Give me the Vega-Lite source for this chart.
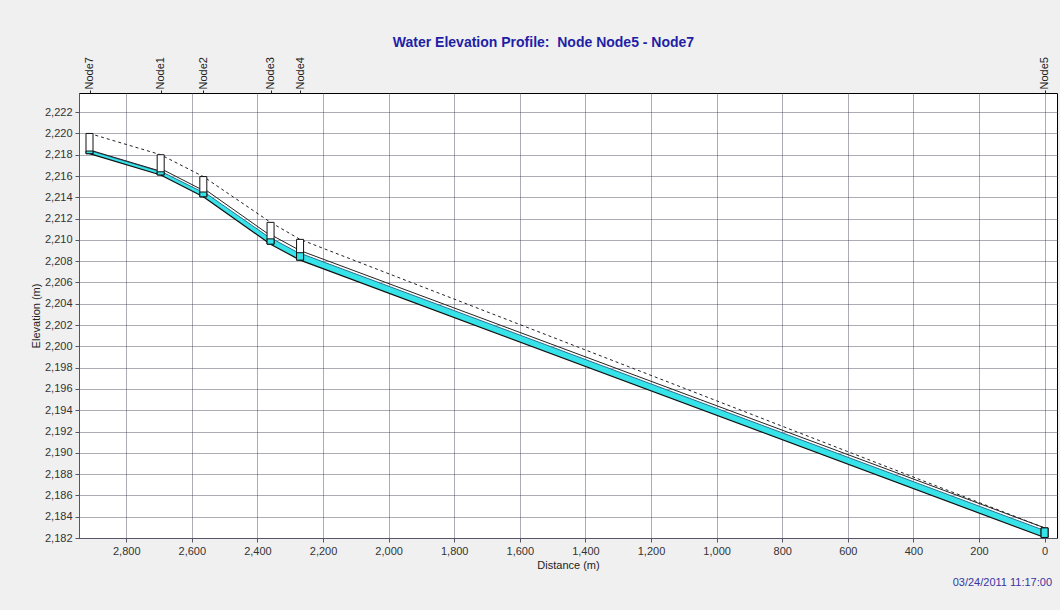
{
  "$schema": "https://vega.github.io/schema/vega-lite/v6.json",
  "autosize": {"type": "none"},
  "padding": {"left": 79, "top": 93, "right": 3, "bottom": 72},
  "width": 978,
  "height": 445,
  "background": "#f0f0f0",
  "title": {
    "text": "03/24/2011 11:17:00",
    "orient": "bottom",
    "anchor": "end",
    "frame": "group",
    "font": "Liberation Sans",
    "fontSize": 11,
    "fontWeight": "normal",
    "color": "#3535a0",
    "offset": 7,
    "dx": -5
  },
  "config": {
    "view": {"fill": "white", "stroke": "black", "strokeWidth": 1},
    "axis": {
      "labelFont": "Liberation Sans",
      "labelFontSize": 11,
      "labelColor": "#333333",
      "titleFont": "Liberation Sans",
      "titleFontSize": 11,
      "titleFontWeight": "normal",
      "titleColor": "#222222",
      "domainColor": "#555566",
      "tickColor": "#555566",
      "gridColor": "#3c3c55",
      "gridDash": [1, 1],
      "gridOpacity": 0.85,
      "labelFlush": false,
      "labelOverlap": false,
      "labelBound": false
    }
  },
  "datasets": {
    "nodes": [
      {"node": "Node7", "dist": 2912, "invert": 2218.1, "top": 2220.0, "water": 2218.35},
      {"node": "Node1", "dist": 2695, "invert": 2216.1, "top": 2218.0, "water": 2216.4},
      {"node": "Node2", "dist": 2565, "invert": 2214.05, "top": 2215.95, "water": 2214.5},
      {"node": "Node3", "dist": 2360, "invert": 2209.6, "top": 2211.65, "water": 2210.1},
      {"node": "Node4", "dist": 2270, "invert": 2208.1, "top": 2210.05, "water": 2208.8},
      {"node": "Node5", "dist": 0, "invert": 2182.05, "top": 2182.95, "water": 2182.95}
    ],
    "conduits": [
      {"seg": "C1", "dist": 2912, "invert": 2218.1, "crown": 2218.45, "water": 2218.4},
      {"seg": "C1", "dist": 2695, "invert": 2216.1, "crown": 2216.45, "water": 2216.4},
      {"seg": "C2", "dist": 2695, "invert": 2216.1, "crown": 2216.7, "water": 2216.45},
      {"seg": "C2", "dist": 2565, "invert": 2214.05, "crown": 2214.65, "water": 2214.45},
      {"seg": "C3", "dist": 2565, "invert": 2214.05, "crown": 2214.85, "water": 2214.55},
      {"seg": "C3", "dist": 2360, "invert": 2209.6, "crown": 2210.4, "water": 2210.15},
      {"seg": "C4", "dist": 2360, "invert": 2209.6, "crown": 2210.5, "water": 2210.2},
      {"seg": "C4", "dist": 2270, "invert": 2208.1, "crown": 2209.0, "water": 2208.7},
      {"seg": "C5", "dist": 2270, "invert": 2208.1, "crown": 2209.0, "water": 2208.75},
      {"seg": "C5", "dist": 0, "invert": 2182.05, "crown": 2182.95, "water": 2182.7}
    ]
  },
  "resolve": {"axis": {"x": "independent"}},
  "layer": [
    {
      "data": {"name": "conduits"},
      "mark": {"type": "area", "color": "#36e3e8", "opacity": 1},
      "encoding": {
        "x": {
          "field": "dist", "type": "quantitative",
          "scale": {"domain": [-22.6, 2928.8], "reverse": true, "nice": false, "zero": false},
          "axis": {
            "orient": "bottom",
            "title": "Distance (m)",
            "values": [0, 200, 400, 600, 800, 1000, 1200, 1400, 1600, 1800, 2000, 2200, 2400, 2600, 2800],
            "format": ",d",
            "grid": true,
            "tickSize": 4,
            "labelPadding": 3,
            "titlePadding": 3
          }
        },
        "y": {
          "field": "water", "type": "quantitative",
          "scale": {"domain": [2182, 2223.8], "nice": false, "zero": false},
          "axis": {
            "title": "Elevation (m)",
            "values": [2182, 2184, 2186, 2188, 2190, 2192, 2194, 2196, 2198, 2200, 2202, 2204, 2206, 2208, 2210, 2212, 2214, 2216, 2218, 2220, 2222],
            "format": ",d",
            "grid": true,
            "tickSize": 4,
            "labelPadding": 3,
            "titlePadding": 3
          }
        },
        "y2": {"field": "invert"},
        "detail": {"field": "seg"}
      }
    },
    {
      "data": {"name": "conduits"},
      "mark": {"type": "line", "color": "#2a6f92", "strokeWidth": 1},
      "encoding": {
        "x": {"field": "dist", "type": "quantitative", "axis": null},
        "y": {"field": "water", "type": "quantitative", "axis": {"title": "Elevation (m)", "values": [2182, 2184, 2186, 2188, 2190, 2192, 2194, 2196, 2198, 2200, 2202, 2204, 2206, 2208, 2210, 2212, 2214, 2216, 2218, 2220, 2222], "format": ",d", "grid": true, "tickSize": 4, "labelPadding": 3, "titlePadding": 3}},
        "detail": {"field": "seg"}
      }
    },
    {
      "data": {"name": "conduits"},
      "mark": {"type": "line", "color": "#111111", "strokeWidth": 1.2},
      "encoding": {
        "x": {"field": "dist", "type": "quantitative", "axis": null},
        "y": {"field": "invert", "type": "quantitative", "axis": {"title": "Elevation (m)", "values": [2182, 2184, 2186, 2188, 2190, 2192, 2194, 2196, 2198, 2200, 2202, 2204, 2206, 2208, 2210, 2212, 2214, 2216, 2218, 2220, 2222], "format": ",d", "grid": true, "tickSize": 4, "labelPadding": 3, "titlePadding": 3}},
        "detail": {"field": "seg"}
      }
    },
    {
      "data": {"name": "conduits"},
      "mark": {"type": "line", "color": "#222222", "strokeWidth": 1},
      "encoding": {
        "x": {"field": "dist", "type": "quantitative", "axis": null},
        "y": {"field": "crown", "type": "quantitative", "axis": {"title": "Elevation (m)", "values": [2182, 2184, 2186, 2188, 2190, 2192, 2194, 2196, 2198, 2200, 2202, 2204, 2206, 2208, 2210, 2212, 2214, 2216, 2218, 2220, 2222], "format": ",d", "grid": true, "tickSize": 4, "labelPadding": 3, "titlePadding": 3}},
        "detail": {"field": "seg"}
      }
    },
    {
      "data": {"name": "nodes"},
      "mark": {"type": "line", "color": "#222222", "strokeWidth": 1, "strokeDash": [3, 3]},
      "encoding": {
        "x": {"field": "dist", "type": "quantitative", "axis": null},
        "y": {"field": "top", "type": "quantitative", "axis": {"title": "Elevation (m)", "values": [2182, 2184, 2186, 2188, 2190, 2192, 2194, 2196, 2198, 2200, 2202, 2204, 2206, 2208, 2210, 2212, 2214, 2216, 2218, 2220, 2222], "format": ",d", "grid": true, "tickSize": 4, "labelPadding": 3, "titlePadding": 3}}
      }
    },
    {
      "data": {"name": "nodes"},
      "mark": {"type": "bar", "width": 7, "fill": "white", "stroke": "#111111", "strokeWidth": 1},
      "encoding": {
        "x": {
          "field": "dist", "type": "quantitative",
          "axis": {
            "orient": "top",
            "values": [2912, 2695, 2565, 2360, 2270, 0],
            "labelExpr": "datum.value == 2912 ? 'Node7' : datum.value == 2695 ? 'Node1' : datum.value == 2565 ? 'Node2' : datum.value == 2360 ? 'Node3' : datum.value == 2270 ? 'Node4' : 'Node5'",
            "labelAngle": 270,
            "labelColor": "#222222",
            "tickSize": 3,
            "tickColor": "#222222",
            "labelPadding": 1,
            "grid": false,
            "domain": false,
            "title": "Water Elevation Profile:\u00a0 Node Node5 - Node7",
            "titleFont": "Liberation Sans",
            "titleFontSize": 14,
            "titleFontWeight": "bold",
            "titleColor": "#1f1fa6",
            "titlePadding": 7,
            "titleX": 464
          }
        },
        "y": {"field": "top", "type": "quantitative", "axis": {"title": "Elevation (m)", "values": [2182, 2184, 2186, 2188, 2190, 2192, 2194, 2196, 2198, 2200, 2202, 2204, 2206, 2208, 2210, 2212, 2214, 2216, 2218, 2220, 2222], "format": ",d", "grid": true, "tickSize": 4, "labelPadding": 3, "titlePadding": 3}},
        "y2": {"field": "invert"}
      }
    },
    {
      "data": {"name": "nodes"},
      "mark": {"type": "bar", "width": 7, "fill": "#36e3e8", "stroke": "#111111", "strokeWidth": 1},
      "encoding": {
        "x": {"field": "dist", "type": "quantitative", "axis": null},
        "y": {"field": "water", "type": "quantitative", "axis": {"title": "Elevation (m)", "values": [2182, 2184, 2186, 2188, 2190, 2192, 2194, 2196, 2198, 2200, 2202, 2204, 2206, 2208, 2210, 2212, 2214, 2216, 2218, 2220, 2222], "format": ",d", "grid": true, "tickSize": 4, "labelPadding": 3, "titlePadding": 3}},
        "y2": {"field": "invert"}
      }
    }
  ]
}
